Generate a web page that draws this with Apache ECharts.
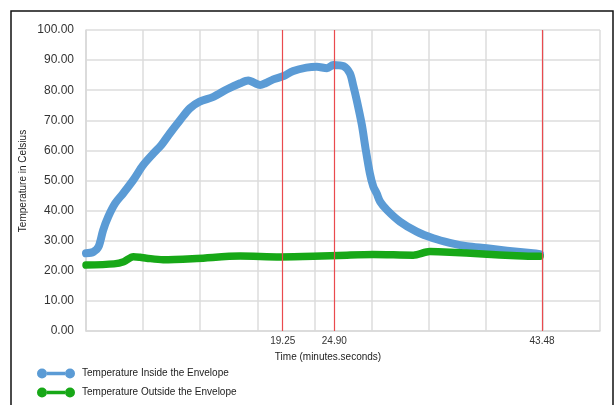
<!DOCTYPE html>
<html>
<head>
<meta charset="utf-8">
<script src="https://cdn.jsdelivr.net/npm/echarts@6/dist/echarts.min.js"></script>
<style>html,body{margin:0;padding:0;background:#fff;}#c{width:616px;height:405px;}</style>
</head>
<body>
<div id="c"></div>
<script>
// x positions are in chart sample units (10 units per vertical gridline)
var insideTime = [0,1.3,2.2,3.0,3.9,5.1,6.5,8.3,10,11.8,13.2,14.7,16.5,18.2,19.9,22.3,24.7,27,28.4,30.5,31.4,32.8,34.6,36.3,38.6,40.4,42.2,43.3,45.1,46.2,46.8,47.4,48.3,48.9,49.7,50.3,50.9,51.5,52.7,55,57.9,60.8,63.7,66.7,70.2,73.7,78.3,79.5];
var insideTemp = [25.8,26.3,28.0,33.5,38.0,42.4,45.7,50.2,55.1,59.0,61.8,65.7,70.1,74.0,76.2,77.8,80.3,82.3,83.2,81.7,82.3,83.6,84.7,86.4,87.5,87.8,87.3,88.4,88.0,85.6,81.5,76.7,68.5,61.2,52.4,48.0,45.7,43.0,40.2,36.3,33.0,30.8,29.3,28.2,27.5,26.7,25.8,25.5];
var outsideTime = [0,4.9,6.6,8.3,9.5,10.6,13.5,19.4,27,34,39.8,45.7,50.3,57.3,60.2,63.7,69.5,75.4,78.9,79.5];
var outsideTemp = [21.9,22.3,23.0,24.7,24.5,24.2,23.7,24.1,24.9,24.6,24.8,25.2,25.4,25.2,26.4,26.2,25.6,25.0,24.8,24.8];
var markLabels = ['19.25','24.90','43.48'];
var markPositions = [34.45,43.48,79.85];
var yTicks = {min:0, max:100, interval:10};

function pairs(xs, ys){ return xs.map(function(x,i){ return [x, ys[i]]; }); }

var chart = echarts.init(document.getElementById('c'), null, {renderer:'canvas'});
var font = 'Liberation Sans, Arial, sans-serif';
var legendIcon = 'path://M5,0A5,5 0 1,0 5,10A5,5 0 1,0 5,0ZM33,0A5,5 0 1,0 33,10A5,5 0 1,0 33,0ZM10,3.2L28,3.2L28,6.8L10,6.8Z';
chart.setOption({
  animation:false,
  textStyle:{fontFamily:font},
  grid:{left:86, right:16, top:30, bottom:74, containLabel:false},
  xAxis:{type:'value', min:0, max:90, interval:10,
    axisLabel:{show:false}, axisTick:{show:false},
    axisLine:{show:true, lineStyle:{color:'#d9d9d9', width:1.5}},
    splitLine:{show:true, lineStyle:{color:'#dcdcdc', width:1.5}}},
  yAxis:{type:'value', min:yTicks.min, max:yTicks.max, interval:yTicks.interval,
    axisLabel:{formatter:function(v){return v.toFixed(2);}, fontSize:12, color:'#333', margin:12, fontFamily:font},
    axisTick:{show:false},
    axisLine:{show:true, lineStyle:{color:'#d9d9d9', width:1.5}},
    splitLine:{show:true, lineStyle:{color:'#dcdcdc', width:1.5}}},
  legend:{orient:'vertical', left:37, top:368, padding:0, itemWidth:38, itemHeight:10, itemGap:8,
    icon:legendIcon,
    data:['Temperature Inside the Envelope','Temperature Outside the Envelope'],
    textStyle:{fontSize:10, color:'#222', fontFamily:font, padding:[0,0,0,2], lineHeight:11}},
  graphic:[
    {type:'rect', shape:{x:11, y:11, width:602, height:420}, style:{fill:'none', stroke:'#111', lineWidth:1.5}, silent:true},
    {type:'text', x:328, y:357, style:{text:'Time (minutes.seconds)', fontSize:10, fill:'#222', textAlign:'center', textVerticalAlign:'middle', fontFamily:font}},
    {type:'text', x:23, y:181, rotation:Math.PI/2, style:{text:'Temperature in Celsius', fontSize:10, fill:'#222', textAlign:'center', textVerticalAlign:'middle', fontFamily:font}}
  ],
  series:[
    {name:'marks', type:'line', data:[], z:1, silent:true,
      markLine:{silent:true, symbol:['none','none'], animation:false,
        lineStyle:{color:'#ea4a4e', width:1.2, type:'solid', opacity:1},
        label:{show:true, position:'start', formatter:'{b}', fontSize:10, color:'#333', distance:5, fontFamily:font},
        data:markPositions.map(function(p,i){ return {xAxis:p, name:markLabels[i]}; })}},
    {name:'Temperature Inside the Envelope', type:'line', z:3, showSymbol:false, smooth:0.3,
      color:'#5b9bd5',
      lineStyle:{width:8, color:'#5b9bd5', cap:'round', join:'round'},
      data:pairs(insideTime, insideTemp)},
    {name:'Temperature Outside the Envelope', type:'line', z:4, showSymbol:false, smooth:0.3,
      color:'#17a817',
      lineStyle:{width:7.5, color:'#17a817', cap:'round', join:'round'},
      data:pairs(outsideTime, outsideTemp)}
  ]
});
</script>
</body>
</html>
